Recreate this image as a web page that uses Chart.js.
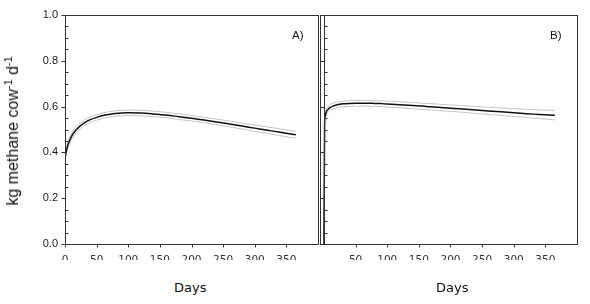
<!DOCTYPE html>
<html>
<head>
<meta charset="utf-8">
<script src="https://cdn.jsdelivr.net/npm/chart.js@4"></script>
<style>
  html, body { margin:0; padding:0; background:#fff; }
  #wrap { position:relative; width:590px; height:304px; overflow:hidden; background:#fff; }
  #cA { position:absolute; left:0; top:0; }
  #cB { position:absolute; left:300px; top:0; }
  .ttl { position:absolute; font-family:"DejaVu Sans", sans-serif; font-size:13px; color:#111; white-space:nowrap; }
  .pl { position:absolute; font-family:"Liberation Sans", Arial, sans-serif; font-size:11.5px; color:#111; }
  #ytitle { position:absolute; left:13px; top:131px; transform:translate(-50%,-50%) rotate(-90deg);
            font-family:"Liberation Sans", Arial, sans-serif; font-size:16px; color:#111; white-space:nowrap; }
  #ytitle sup { font-size:0.68em; vertical-align:0.55em; line-height:0; }
</style>
</head>
<body>
<div id="wrap">
  <canvas id="cA" width="320" height="260" style="width:320px;height:260px"></canvas>
  <canvas id="cB" width="290" height="260" style="width:290px;height:260px"></canvas>
  <div id="ytitle">kg methane cow<sup>-1</sup> d<sup>-1</sup></div>
  <div class="ttl" id="dA" style="left:174px;top:280px">Days</div>
  <div class="ttl" id="dB" style="left:436px;top:280px">Days</div>
  <div class="pl" style="left:292px;top:29px">A)</div>
  <div class="pl" style="left:550px;top:29px">B)</div>
</div>
<script>
// ---- data ----
const days   = [0,1,2,3,5,7,10,15,20,25,30,40,50,60,70,80,90,100,120,140,160,180,200,220,240,260,280,300,320,340,365];
const meanA  = [0.37,0.39,0.405,0.417,0.436,0.45,0.468,0.49,0.505,0.518,0.528,0.543,0.553,0.561,0.566,0.57,0.572,0.573,0.572,0.568,0.563,0.556,0.549,0.541,0.533,0.524,0.515,0.506,0.497,0.488,0.477];
const upperA = [0.38,0.40,0.417,0.43,0.45,0.465,0.483,0.504,0.518,0.53,0.54,0.555,0.565,0.573,0.578,0.582,0.584,0.585,0.584,0.58,0.575,0.568,0.561,0.553,0.545,0.537,0.528,0.52,0.511,0.503,0.492];
const lowerA = [0.36,0.38,0.393,0.404,0.422,0.435,0.453,0.476,0.492,0.506,0.516,0.531,0.541,0.549,0.554,0.558,0.56,0.561,0.56,0.556,0.551,0.544,0.537,0.529,0.521,0.511,0.502,0.492,0.483,0.473,0.462];
const meanB  = [0.0,0.53,0.56,0.571,0.583,0.59,0.597,0.603,0.607,0.61,0.612,0.614,0.615,0.615,0.615,0.614,0.613,0.611,0.608,0.605,0.601,0.597,0.593,0.589,0.585,0.581,0.577,0.573,0.569,0.566,0.562];
const upperB = [0.0,0.545,0.572,0.583,0.596,0.603,0.61,0.616,0.62,0.622,0.624,0.626,0.627,0.627,0.627,0.626,0.625,0.624,0.621,0.618,0.614,0.611,0.607,0.604,0.6,0.597,0.594,0.591,0.588,0.586,0.583];
const lowerB = [0.0,0.515,0.547,0.558,0.57,0.577,0.584,0.59,0.594,0.597,0.599,0.601,0.602,0.602,0.602,0.601,0.6,0.598,0.595,0.591,0.587,0.583,0.579,0.575,0.57,0.566,0.561,0.557,0.552,0.548,0.542];
const xTicksA = [0,50,100,150,200,250,300,350];
const xTicksB = [50,100,150,200,250,300,350];
const yTicks  = [0,0.2,0.4,0.6,0.8,1.0];
const yMinor  = [0.05,0.1,0.15,0.25,0.3,0.35,0.45,0.5,0.55,0.65,0.7,0.75,0.85,0.9,0.95];

const AX = '#333';
function pts(ys){ return days.map((d,i)=>({x:d,y:ys[i]})); }
function ds(ys, main){
  return { data: pts(ys), borderColor: main ? '#111' : '#c4c4c4', borderWidth: main ? 1.5 : 1,
           pointRadius:0, cubicInterpolationMode:'monotone', fill:false, order: main ? 0 : 1 };
}

const framePlugin = {
  id:'frame',
  afterDraw(chart, args, opts){
    const ctx = chart.ctx, a = chart.chartArea, xs = chart.scales.x, ys = chart.scales.y;
    const L = Math.round(a.left)+0.5, R = Math.round(a.right)+0.5, T = Math.round(a.top)+0.5, B = Math.round(a.bottom)+0.5;
    ctx.save();
    ctx.strokeStyle = AX; ctx.lineWidth = 1;
    ctx.strokeRect(L, T, R-L, B-T);
    const yAxisX = Math.round(xs.getPixelForValue(0))+0.5;
    ctx.beginPath();
    ctx.moveTo(yAxisX, T); ctx.lineTo(yAxisX, B);
    yTicks.forEach(v => { const y = Math.round(ys.getPixelForValue(v))+0.5; ctx.moveTo(yAxisX-4, y); ctx.lineTo(yAxisX, y); });
    yMinor.forEach(v => { const y = Math.round(ys.getPixelForValue(v))+0.5; ctx.moveTo(yAxisX, y); ctx.lineTo(yAxisX+3, y); });
    opts.xt.forEach(v => { const x = Math.round(xs.getPixelForValue(v))+0.5; ctx.moveTo(x, B); ctx.lineTo(x, B+3); });
    ctx.stroke();
    ctx.restore();
  }
};

function makeChart(id, m, u, l, xt, xmin, showY, pad){
  return new Chart(document.getElementById(id), {
    type:'line',
    data:{ datasets:[ds(u,false), ds(l,false), ds(m,true)] },
    plugins:[framePlugin],
    options:{
      responsive:false, animation:false,
      layout:{ padding: pad },
      plugins:{ legend:{display:false}, tooltip:{enabled:false}, frame:{ xt: xt } },
      scales:{
        x:{ type:'linear', min:xmin, max:400,
            afterBuildTicks: s => { s.ticks = xt.map(v=>({value:v})); },
            afterFit: s => { s.height = 16; },
            grid:{display:false, drawTicks:false}, border:{display:false},
            ticks:{ padding:10, color:'#333', maxRotation:0, autoSkip:false,
                    font:{family:'DejaVu Sans', size:10.5}, callback: v => String(v) } },
        y:{ min:0, max:1, display: showY,
            afterBuildTicks: s => { s.ticks = yTicks.map(v=>({value:v})); },
            afterFit: s => { s.width = showY ? 65 : 0; },
            grid:{display:false, drawTicks:false}, border:{display:false},
            ticks:{ padding:7, color:'#222', font:{family:'Liberation Sans', size:11},
                    callback: v => Number(v).toFixed(1) } }
      }
    }
  });
}

makeChart('cA', meanA, upperA, lowerA, xTicksA, 0, true, {left:0, top:15, right:2, bottom:0});
makeChart('cB', meanB, upperB, lowerB, xTicksB, -6.3, false, {left:20, top:15, right:13, bottom:0});
</script>
</body>
</html>
